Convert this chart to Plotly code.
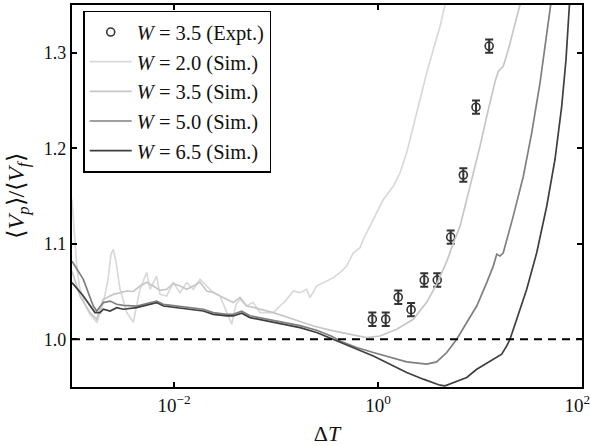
import numpy as np
import plotly.graph_objects as go

# ---------------- data ----------------
# log10(Delta T) and <Vp>/<Vf> for each simulated curve
w20_logdT = [-3.0, -2.980, -2.951, -2.922, -2.873, -2.824, -2.755, -2.696, -2.647, -2.618,
             -2.595, -2.569, -2.529, -2.464, -2.399, -2.333, -2.268, -2.235, -2.170, -2.137,
             -2.072, -2.007, -1.941, -1.875, -1.811, -1.745, -1.679, -1.615, -1.549, -1.483,
             -1.434, -1.392, -1.353, -1.287, -1.225, -1.157, -1.098, -1.026, -0.961, -0.895,
             -0.830, -0.765, -0.699, -0.667, -0.601, -0.503, -0.438, -0.373, -0.307, -0.242,
             -0.176, -0.144, -0.046, 0.052, 0.150, 0.216, 0.281, 0.346, 0.412, 0.477,
             0.542, 0.608, 0.657, 0.676]
w20_ratio = [1.1463, 1.115, 1.0732, 1.0523, 1.0366, 1.0261, 1.0178, 1.0366, 1.0627, 1.0889,
             1.0941, 1.0815, 1.0523, 1.0282, 1.0178, 1.0523, 1.0700, 1.0523, 1.0662, 1.0470,
             1.0453, 1.0593, 1.0488, 1.0593, 1.0523, 1.0627, 1.0557, 1.0488, 1.0453, 1.0279,
             1.0157, 1.0366, 1.0418, 1.0348, 1.0387, 1.0279, 1.0282, 1.0279, 1.0348, 1.0418,
             1.0505, 1.0488, 1.0523, 1.0436, 1.0557, 1.0609, 1.0645, 1.0697, 1.0766, 1.0906,
             1.0959, 1.1045, 1.1254, 1.1463, 1.1602, 1.1743, 1.1952, 1.2230, 1.2509, 1.2788,
             1.3031, 1.3275, 1.3502, 1.3763]

w35_logdT = [-3.0, -2.922, -2.824, -2.758, -2.693, -2.595, -2.464, -2.399, -2.333, -2.268,
             -2.203, -2.137, -2.072, -2.007, -1.941, -1.875, -1.811, -1.745, -1.679, -1.615,
             -1.549, -1.483, -1.419, -1.353, -1.287, -1.225, -1.157, -1.026, -0.830, -0.634,
             -0.438, -0.242, -0.111, 0.020, 0.183, 0.346, 0.477, 0.575, 0.674, 0.738,
             0.804, 0.870, 0.968, 1.000, 1.066, 1.098, 1.147, 1.179, 1.228, 1.277,
             1.343, 1.392, 1.412]
w35_ratio = [1.0714, 1.0453, 1.0279, 1.0209, 1.0418, 1.0470, 1.0505, 1.0500, 1.0557, 1.0596,
             1.0557, 1.0512, 1.0523, 1.0585, 1.0557, 1.0523, 1.0557, 1.0596, 1.0505, 1.0491,
             1.0453, 1.0418, 1.0384, 1.0439, 1.0348, 1.0335, 1.0314, 1.0279, 1.0209, 1.0139,
             1.0087, 1.0042, 1.0018, 1.0034, 1.0105, 1.0209, 1.0387, 1.0575, 1.0815, 1.1004,
             1.1184, 1.1463, 1.1882, 1.2021, 1.2334, 1.2477, 1.2697, 1.2805, 1.2857, 1.3031,
             1.3293, 1.3502, 1.3763]

w50_logdT = [-3.0, -2.889, -2.791, -2.758, -2.693, -2.627, -2.562, -2.497, -2.366, -2.235,
             -2.170, -2.105, -1.974, -1.843, -1.713, -1.615, -1.483, -1.419, -1.336, -1.255,
             -1.091, -0.928, -0.765, -0.601, -0.454, -0.373, -0.209, -0.046, 0.118, 0.281,
             0.477, 0.575, 0.674, 0.772, 0.870, 0.968, 1.066, 1.130, 1.164, 1.196,
             1.228, 1.326, 1.425, 1.507, 1.588, 1.647, 1.693, 1.716]
w50_ratio = [1.0818, 1.0627, 1.0348, 1.0296, 1.0384, 1.0400, 1.0366, 1.0355, 1.0348, 1.0382,
             1.0400, 1.0366, 1.0348, 1.0331, 1.0314, 1.0279, 1.0261, 1.0261, 1.0293, 1.0246,
             1.0212, 1.0178, 1.0143, 1.0094, 1.0031, 0.9982, 0.9913, 0.9861, 0.9809, 0.9763,
             0.9739, 0.9763, 0.9861, 1.0000, 1.0175, 1.0348, 1.0593, 1.0766, 1.0889, 1.0871,
             1.0906, 1.1289, 1.1707, 1.2161, 1.2683, 1.3136, 1.3502, 1.3763]

w65_logdT = [-3.0, -2.889, -2.775, -2.725, -2.693, -2.627, -2.562, -2.497, -2.366, -2.235,
             -2.170, -2.105, -1.974, -1.843, -1.713, -1.615, -1.483, -1.419, -1.336, -1.255,
             -1.091, -0.928, -0.765, -0.601, -0.454, -0.373, -0.209, -0.046, 0.118, 0.281,
             0.444, 0.608, 0.657, 0.738, 0.870, 0.968, 1.130, 1.213, 1.262, 1.294,
             1.360, 1.458, 1.556, 1.654, 1.735, 1.801, 1.843, 1.875, 1.892]
w65_ratio = [1.0593, 1.0453, 1.0279, 1.0279, 1.0314, 1.0296, 1.0331, 1.0314, 1.0331, 1.0366,
             1.0384, 1.0348, 1.0331, 1.0314, 1.0296, 1.0261, 1.0244, 1.0244, 1.0272, 1.0227,
             1.0192, 1.0157, 1.0122, 1.0070, 1.0007, 0.9966, 0.9895, 0.9825, 0.9739, 0.9652,
             0.9582, 0.9519, 0.9512, 0.9547, 0.9600, 0.9686, 0.9791, 0.9843, 0.9930, 1.0000,
             1.0209, 1.0523, 1.0906, 1.1393, 1.1882, 1.2439, 1.2927, 1.3484, 1.3763]

# Experimental points, W = 3.5
expt_dT = [0.88, 1.19, 1.58, 2.11, 2.84, 3.81, 5.16, 6.86, 9.14, 12.3]
expt_ratio = [1.021, 1.021, 1.044, 1.031, 1.062, 1.062, 1.107, 1.172, 1.243, 1.307]
expt_err = [0.007, 0.007, 0.007, 0.007, 0.007, 0.007, 0.007, 0.007, 0.007, 0.007]

reference_ratio = 1.0
x_tick_vals = [1e-2, 1e0, 1e2]
x_tick_text = ["10<sup>\u22122</sup>", "10<sup>0</sup>", "10<sup>2</sup>\u00a0\u00a0"]
y_tick_vals = [1.0, 1.1, 1.2, 1.3]

FONT = "Liberation Serif, Times New Roman, serif"

fig = go.Figure()

fig.add_trace(go.Scatter(
    x=expt_dT, y=expt_ratio, mode="markers",
    name="<i>W</i> = 3.5 (Expt.)", legendgroup="a",
    marker=dict(symbol="circle-open", size=8, color="#333333", line=dict(width=1.6)),
    error_y=dict(type="data", array=expt_err, visible=True, thickness=2, width=4, color="#333333"),
))

curves = [
    ("<i>W</i> = 2.0 (Sim.)", w20_logdT, w20_ratio, "#d9d9d9", "b"),
    ("<i>W</i> = 3.5 (Sim.)", w35_logdT, w35_ratio, "#c6c6c6", "c"),
    ("<i>W</i> = 5.0 (Sim.)", w50_logdT, w50_ratio, "#7f7f7f", "d"),
    ("<i>W</i> = 6.5 (Sim.)", w65_logdT, w65_ratio, "#3f3f3f", "e"),
]
for name, lx, yy, col, grp in curves:
    fig.add_trace(go.Scatter(
        x=10 ** np.array(lx), y=yy, mode="lines", name=name, legendgroup=grp,
        line=dict(color=col, width=1.7),
    ))

fig.add_hline(y=reference_ratio, line=dict(color="black", width=1.8, dash="8px,6px"))

fig.update_layout(
    width=590, height=446,
    margin=dict(l=72, r=8, t=5, b=59, autoexpand=False),
    paper_bgcolor="white", plot_bgcolor="white",
    font=dict(family=FONT, size=17, color="#111111"),
    showlegend=True,
    legend=dict(
        x=0.022, y=0.985, xanchor="left", yanchor="top",
        bgcolor="white", bordercolor="black", borderwidth=1.5,
        font=dict(family=FONT, size=20.5, color="#111111"),
        tracegroupgap=0, traceorder="grouped", itemwidth=42,
        entrywidth=150, entrywidthmode="pixels",
    ),
    xaxis=dict(
        type="log", range=[-3, 2], automargin=False,
        tickvals=x_tick_vals, ticktext=x_tick_text, ticklabeloverflow="allow",
        ticks="inside", ticklen=5, tickwidth=1.5, tickcolor="black",
        showline=True, linewidth=2.2, linecolor="black", mirror="ticks",
        showgrid=False, zeroline=False,
        tickfont=dict(family=FONT, size=19),
        title=dict(text="\u0394<i>T</i>", font=dict(family=FONT, size=22), standoff=12),
    ),
    yaxis=dict(
        range=[0.95, 1.35], automargin=False,
        tickvals=y_tick_vals, tickformat=".1f",
        ticks="inside", ticklen=5, tickwidth=1.5, tickcolor="black",
        showline=True, linewidth=2.2, linecolor="black", mirror="ticks",
        showgrid=False, zeroline=False,
        tickfont=dict(family=FONT, size=18),
        title=dict(text="\u27e8<i>V</i><sub><i>p</i></sub>\u27e9/\u27e8<i>V</i><sub><i>f</i></sub>\u27e9",
                   font=dict(family=FONT, size=24), standoff=12),
    ),
)

fig.write_html("out.html")
